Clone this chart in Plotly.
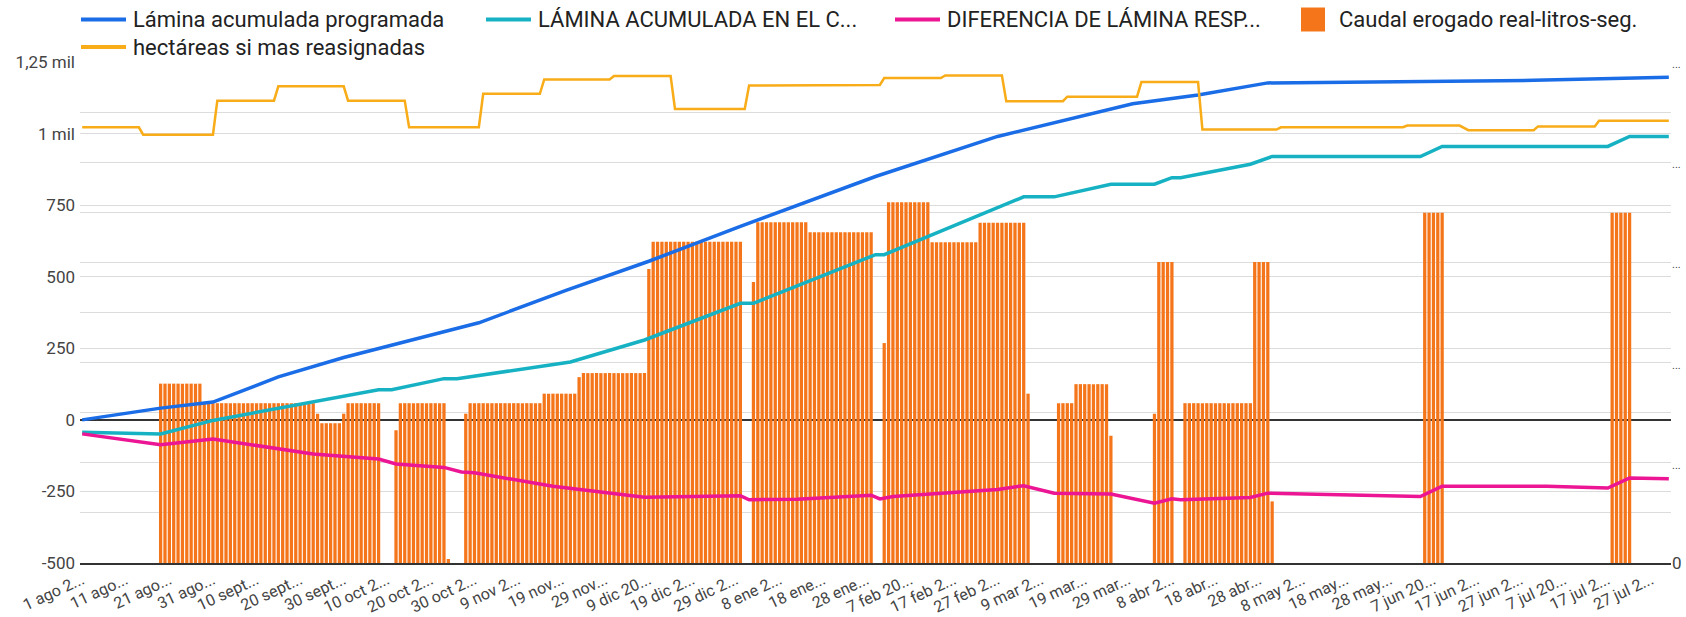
import plotly.graph_objects as go
import pandas as pd

# ---------------- categorías (días) ----------------
INICIO = "2024-08-01"
fechas = pd.date_range(INICIO, periods=365, freq="D")

tick_dias = list(range(0, 361, 10))
tick_textos = [
    "1 ago 2...", "11 ago...", "21 ago...", "31 ago...", "10 sept...", "20 sept...",
    "30 sept...", "10 oct 2...", "20 oct 2...", "30 oct 2...", "9 nov 2...", "19 nov...",
    "29 nov...", "9 dic 20...", "19 dic 2...", "29 dic 2...", "8 ene 2...", "18 ene...",
    "28 ene...", "7 feb 20...", "17 feb 2...", "27 feb 2...", "9 mar 2...", "19 mar...",
    "29 mar...", "8 abr 2...", "18 abr...", "28 abr...", "8 may 2...", "18 may...",
    "28 may...", "7 jun 20...", "17 jun 2...", "27 jun 2...", "7 jul 20...", "17 jul 2...",
    "27 jul 2...",
]

# ---------------- series (día, valor) ----------------
prog_dia = [0, 18, 30, 45, 60, 75, 91, 111, 130, 151, 182, 210, 241, 256, 272, 333, 364]
prog_val = [0, 41, 62, 150, 218, 276, 339, 452, 554, 676, 850, 990, 1104, 1135, 1177, 1186, 1197]

real_dia = [0, 18, 30, 53, 68, 71, 83, 86, 112, 129, 151, 154, 182, 184, 216, 223, 236, 246,
            250, 252, 268, 273, 307, 312, 350, 355, 364]
real_val = [-43, -49, -2, 62, 105, 105, 144, 144, 202, 279, 407, 407, 577, 577, 779, 779, 823, 823,
            846, 846, 893, 920, 920, 955, 955, 990, 990]

dif_dia = [0, 18, 30, 53, 68, 72, 83, 87, 90, 108, 129, 151, 153, 164, 181, 183, 186, 200, 210,
           215, 216, 223, 236, 246, 250, 252, 268, 272, 279, 307, 312, 336, 350, 355, 364]
dif_val = [-49, -87, -67, -119, -137, -154, -166, -182, -185, -232, -270, -265, -279, -277, -263,
           -276, -268, -255, -243, -232, -230, -256, -259, -291, -276, -279, -271, -256, -259,
           -268, -232, -232, -238, -203, -206]

ha_dia = [0, 13, 14, 30, 31, 44, 45, 60, 61, 74, 75, 91, 92, 105, 106, 121, 122, 135, 136, 152,
          153, 168, 169, 183, 184, 197, 198, 211, 212, 225, 226, 242, 243, 256, 257, 274, 275,
          303, 304, 316, 318, 333, 334, 347, 348, 364]
ha_val = [1022, 1022, 996, 996, 1115, 1115, 1165, 1165, 1115, 1115, 1022, 1022, 1139, 1139, 1189,
          1189, 1201, 1201, 1086, 1086, 1168, 1168, 1170, 1170, 1194, 1194, 1203, 1203, 1113, 1113,
          1129, 1129, 1180, 1180, 1014, 1014, 1022, 1022, 1028, 1028, 1012, 1012, 1025, 1025,
          1045, 1045]

# Caudal erogado real (eje derecho): tramos de días con el mismo valor
caudal_ini = [18, 28, 54, 55, 60, 61, 72, 73, 84, 88, 89, 106, 114, 115, 130, 131, 154, 155, 167,
              184, 185, 195, 206, 217, 224, 228, 236, 246, 247, 253, 269, 273, 308, 351]
caudal_fin = [27, 53, 54, 59, 60, 68, 72, 83, 84, 88, 105, 113, 114, 129, 130, 151, 154, 166, 181,
              184, 194, 205, 216, 217, 227, 235, 236, 246, 250, 268, 272, 273, 312, 355]
caudal_val = [358, 319, 298, 279, 298, 319, 265, 319, 8, 298, 319, 338, 371, 379, 587, 641, 561,
              680, 660, 439, 720, 640, 679, 338, 319, 357, 254, 298, 601, 319, 601, 123, 699, 699]

caudal = [None] * len(fechas)
for a, b, v in zip(caudal_ini, caudal_fin, caudal_val):
    for d in range(a, b + 1):
        caudal[d] = v

izq_ticks = [-500, -250, 0, 250, 500, 750, 1000, 1250]
izq_textos = ["-500", "-250", "0", "250", "500", "750", "1 mil", "1,25 mil"]
der_ticks = list(range(0, 1001, 100))
der_textos = ["0" if t == 0 else ("<span style='font-size:11px'>...</span>" if t % 200 == 0 else "")
              for t in der_ticks]

# nombres de las series (como en la leyenda)
N_PROG = "Lámina acumulada programada"
N_REAL = "LÁMINA ACUMULADA EN EL C..."
N_DIF = "DIFERENCIA DE LÁMINA RESP..."
N_CAUDAL = "Caudal erogado real-litros-seg."
N_HA = "hectáreas si mas reasignadas"

C_PROG, C_REAL, C_DIF, C_CAUDAL, C_HA = "#1a6de6", "#16b2c3", "#ec1593", "#f5761a", "#f8ac18"


def dias_a_fechas(dias):
    return [fechas[d] for d in dias]


FONT = "Roboto, Arial, sans-serif"
W, H = 1686, 617
ML, MR, MT, MB = 80, 15, 62, 54
PW, PH = W - ML - MR, H - MT - MB

fig = go.Figure()

fig.add_trace(go.Bar(
    x=fechas, y=caudal, name=N_CAUDAL, yaxis="y",
    marker=dict(color=C_CAUDAL, line=dict(width=0)),
))

lineas = [
    (N_PROG, prog_dia, prog_val, C_PROG, 3.5),
    (N_REAL, real_dia, real_val, C_REAL, 3.5),
    (N_DIF, dif_dia, dif_val, C_DIF, 3.5),
    (N_HA, ha_dia, ha_val, C_HA, 2.5),
]
for nombre, dd, vv, color, ancho in lineas:
    fig.add_trace(go.Scatter(
        x=dias_a_fechas(dd), y=vv, name=nombre, mode="lines", yaxis="y2",
        line=dict(color=color, width=ancho),
    ))


# ---------------- leyenda dibujada a mano (posiciones en píxeles) ----------------
def px(xp):
    return (xp - ML) / PW


def py(yp):
    return (H - MB - yp) / PH


leyenda = [  # (nombre, color, tipo, x del símbolo, y de la fila)
    (N_PROG, C_PROG, "linea", 81, 19.5),
    (N_REAL, C_REAL, "linea", 486, 19.5),
    (N_DIF, C_DIF, "linea", 895, 19.5),
    (N_CAUDAL, C_CAUDAL, "cuadro", 1301, 19.5),
    (N_HA, C_HA, "linea", 81, 47),
]
shapes = []
annotations = []
for nombre, color, tipo, x0, y0 in leyenda:
    if tipo == "linea":
        shapes.append(dict(type="line", xref="paper", yref="paper",
                           x0=px(x0), x1=px(x0 + 45), y0=py(y0), y1=py(y0),
                           line=dict(color=color, width=4)))
        xt = x0 + 50
    else:
        shapes.append(dict(type="rect", xref="paper", yref="paper",
                           x0=px(x0), x1=px(x0 + 24), y0=py(y0 - 12), y1=py(y0 + 12),
                           fillcolor=color, line=dict(width=0)))
        xt = x0 + 36
    annotations.append(dict(text=nombre, xref="paper", yref="paper", x=px(xt), y=py(y0),
                            xanchor="left", yanchor="middle", showarrow=False,
                            font=dict(family=FONT, size=22, color="#222")))

fig.update_layout(
    width=W, height=H,
    margin=dict(l=ML, r=MR, t=MT, b=MB, autoexpand=False),
    paper_bgcolor="white", plot_bgcolor="white",
    font=dict(family=FONT, size=17, color="#444"),
    bargap=0.25,
    showlegend=False,
    shapes=shapes,
    annotations=annotations,
    xaxis=dict(
        type="date",
        range=[fechas[0] - pd.Timedelta(hours=12), fechas[-1] + pd.Timedelta(hours=12)],
        tickvals=dias_a_fechas(tick_dias), ticktext=tick_textos, tickangle=-25,
        showgrid=False, showline=True, linecolor="#333", linewidth=1.5,
        ticks="", automargin=False, tickfont=dict(size=16, color="#444"),
    ),
    yaxis=dict(
        side="right", range=[0, 1000], tickvals=der_ticks, ticktext=der_textos,
        showgrid=True, gridcolor="#dcdcdc", gridwidth=1, zeroline=False,
        automargin=False, tickfont=dict(size=17, color="#444"), ticks="",
    ),
    yaxis2=dict(
        overlaying="y", side="left", range=[-500, 1250], tickvals=izq_ticks, ticktext=izq_textos,
        showgrid=True, gridcolor="#dcdcdc", gridwidth=1,
        zeroline=True, zerolinecolor="#333", zerolinewidth=1.5,
        automargin=False, tickfont=dict(size=17, color="#444"), ticks="",
        ticklabelstandoff=4,
    ),
)

fig.write_html(
    "out.html",
    config={"displayModeBar": False},
    post_script="document.body.style.margin='0';document.body.style.overflow='hidden';",
)
